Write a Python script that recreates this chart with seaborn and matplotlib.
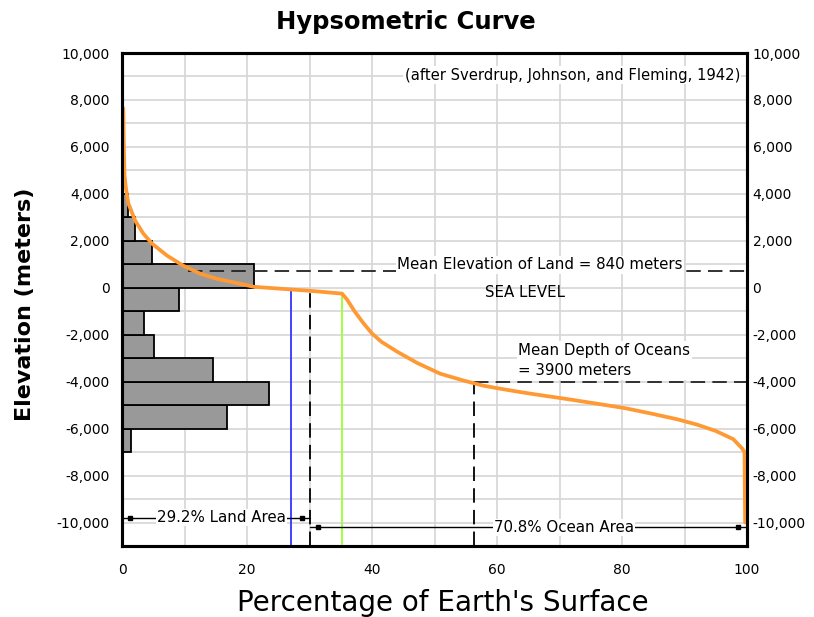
import matplotlib
matplotlib.use("Agg")
import numpy as np
import matplotlib.pyplot as plt
from matplotlib.ticker import FuncFormatter, MultipleLocator
import seaborn as sns

# area (% of earth's surface) in each 1000 m elevation band
band_mid = [3500, 2500, 1500, 500, -500, -1500, -2500, -3500, -4500, -5500, -6500]
band_pct = [1.0, 2.1, 4.8, 21.1, 9.1, 3.5, 5.1, 14.6, 23.5, 16.8, 1.4]
band_edges = list(range(-7000, 5000, 1000))

# cumulative hypsometric curve
curve_pct = [0.2, 0.3, 0.4, 0.6, 1.0, 2.1, 3.4, 4.8, 7.2, 9.8, 12.5, 15.2,
             18.9, 21.1, 25.3, 30.1, 35.2, 36.0, 37.2, 38.6, 40.0, 41.5,
             44.0, 47.2, 50.9, 54.6, 57.8, 60.5, 63.2, 65.8, 71.2, 76.5,
             80.5, 84.5, 88.8, 92.0, 95.0, 97.8, 99.2, 99.6, 99.7]
curve_elev = [7650, 6000, 4800, 4300, 3600, 2860, 2310, 1880, 1370, 940,
              600, 380, 170, 40, -40, -130, -250, -500, -1000, -1500, -1950,
              -2300, -2720, -3200, -3660, -3950, -4170, -4300, -4420, -4530,
              -4740, -4960, -5130, -5350, -5600, -5830, -6100, -6450, -6840,
              -7000, -10000]

# reference lines
blue_x, blue_top = 27.0, -50
green_x, green_top = 35.2, -250
shore_x, shore_top = 30.1, -130
mean_land_x, mean_land_elev = 10.6, 700
mean_depth_x, mean_depth_elev = 56.3, -4000
land_bar_y, ocean_bar_y = -9790, -10210

sns.set_style("white")
plt.rcParams["font.family"] = ["DejaVu Sans"]
plt.rcParams["text.color"] = "black"
plt.rcParams["xtick.color"] = "black"
plt.rcParams["ytick.color"] = "black"

fig = plt.figure(figsize=(8.14, 6.17), dpi=100)
ax = fig.add_axes([0.1499, 0.1151, 0.7678, 0.799])

ax.set_xlim(0, 100)
ax.set_ylim(-11000, 10000)
ax.xaxis.set_major_locator(MultipleLocator(20))
ax.xaxis.set_minor_locator(MultipleLocator(10))
ax.yaxis.set_major_locator(MultipleLocator(2000))
ax.yaxis.set_minor_locator(MultipleLocator(1000))
ax.grid(which="both", color="#d6d6d6", linewidth=1.2)
ax.set_axisbelow(True)

sns.histplot(y=band_mid, weights=band_pct, bins=band_edges, color="#999999",
             edgecolor="black", linewidth=1.3, alpha=1, ax=ax, zorder=2)
sns.lineplot(x=curve_pct, y=curve_elev, sort=False, estimator=None,
             color="#ff9933", linewidth=2.7, ax=ax, zorder=4)

ymin = ax.get_ylim()[0]
ax.plot([blue_x, blue_x], [ymin, blue_top], color="#3333ff", lw=1.3, zorder=3)
ax.plot([green_x, green_x], [ymin, green_top], color="#99ff33", lw=1.3, zorder=3)
ax.plot([shore_x, shore_x], [ymin, shore_top], color="black", lw=1.3,
        dashes=(8, 4), zorder=3)
ax.plot([mean_depth_x, mean_depth_x], [ymin, mean_depth_elev], color="black",
        lw=1.3, dashes=(8, 4), zorder=3)
ax.plot([mean_land_x, 100], [mean_land_elev, mean_land_elev], color="#222222",
        lw=1.3, dashes=(8, 4), zorder=3)
ax.plot([mean_depth_x, 100], [mean_depth_elev, mean_depth_elev], color="#222222",
        lw=1.3, dashes=(8, 4), zorder=3)

# area brackets at the bottom
ax.plot([0, shore_x], [land_bar_y, land_bar_y], color="black", lw=1, zorder=3)
ax.plot([1.3, 28.8], [land_bar_y, land_bar_y], "s", color="black", ms=3.5, zorder=3)
ax.plot([shore_x, 100], [ocean_bar_y, ocean_bar_y], color="black", lw=1, zorder=3)
ax.plot([31.3, 98.5], [ocean_bar_y, ocean_bar_y], "s", color="black", ms=3.5, zorder=3)

box = dict(facecolor="white", edgecolor="none", pad=1)
fs = 10.8
ax.text(15.9, land_bar_y, "29.2% Land Area", ha="center", va="center",
        fontsize=fs, bbox=box, zorder=5)
ax.text(70.7, ocean_bar_y, "70.8% Ocean Area", ha="center", va="center",
        fontsize=fs, bbox=box, zorder=5)
ax.text(66.9, 980, "Mean Elevation of Land = 840 meters", ha="center",
        va="center", fontsize=fs, bbox=box, zorder=5)
ax.text(64.5, -210, "SEA LEVEL", ha="center", va="center", fontsize=fs, zorder=5)
ax.text(63.4, -3100, "Mean Depth of Oceans\n= 3900 meters", ha="left",
        va="center", fontsize=fs, linespacing=1.45, bbox=box, zorder=5)
ax.text(98.9, 9060, "(after Sverdrup, Johnson, and Fleming, 1942)", ha="right",
        va="center", fontsize=10.6, bbox=box, zorder=5)

fmt = FuncFormatter(lambda v, p: f"{int(v):,}")
ax.yaxis.set_major_formatter(fmt)
ax.tick_params(axis="y", which="both", length=0, pad=9, labelsize=10)
ax.tick_params(axis="x", which="both", length=0, pad=12, labelsize=10)

ax2 = ax.twinx()
ax2.set_ylim(ax.get_ylim())
ax2.yaxis.set_major_locator(MultipleLocator(2000))
ax2.yaxis.set_major_formatter(fmt)
ax2.tick_params(axis="y", length=0, pad=4, labelsize=10)

for a in (ax, ax2):
    for s in a.spines.values():
        s.set_visible(True)
        s.set_color("black")
        s.set_linewidth(2.2)
ax.set_xlabel("")
ax.set_ylabel("")

fig.text(0.499, 0.965, "Hypsometric Curve", ha="center", va="center",
         fontsize=17.5, fontweight="bold")
fig.text(0.544, 0.023, "Percentage of Earth's Surface", ha="center",
         va="center", fontsize=20)
fig.text(0.031, 0.506, "Elevation (meters)", ha="center", va="center",
         rotation=90, fontsize=16, fontweight="bold")

fig.savefig("out.png", dpi=100)
